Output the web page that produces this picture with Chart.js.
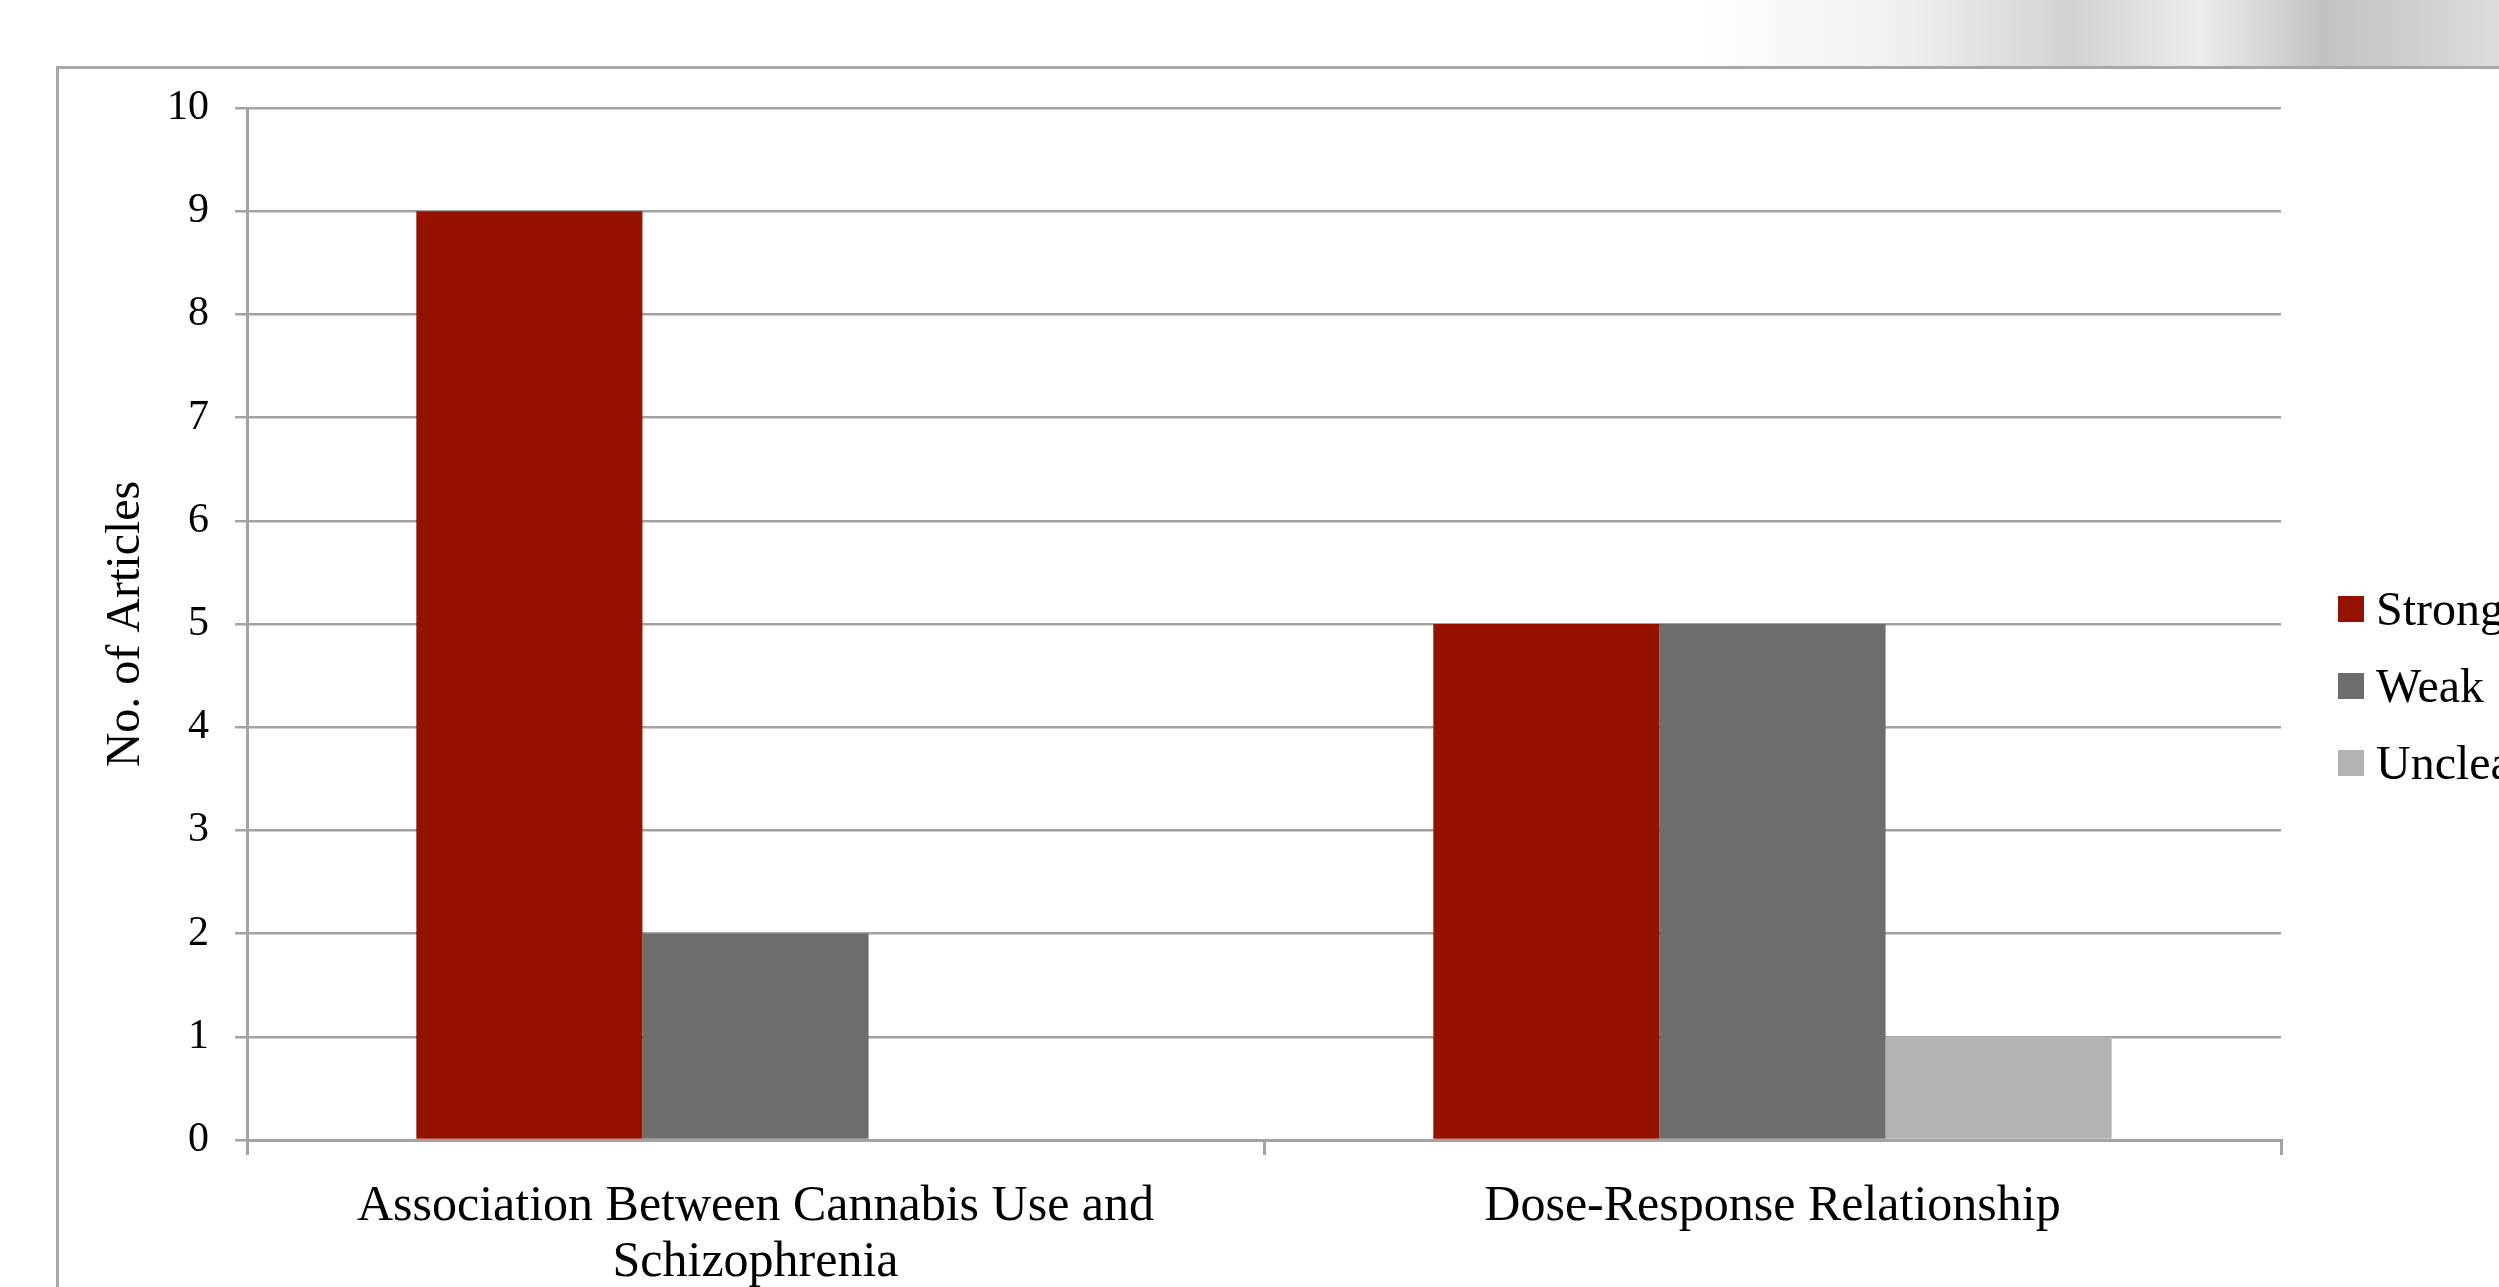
<!DOCTYPE html>
<html>
<head>
<meta charset="utf-8">
<script src="https://cdn.jsdelivr.net/npm/chart.js@4.4.0/dist/chart.umd.min.js"></script>
<style>
    html, body { margin: 0; padding: 0; width: 2499px; height: 1287px; overflow: hidden; background: #fff; }
    #shade {
        position: absolute; left: 0; top: 0; width: 2499px; height: 66px;
        background: linear-gradient(90deg, #fff 0%, #fff 68%, #f0f0f0 76%, #d2d2d2 83%, #ececec 88%, #c2c2c2 93%, #dcdcdc 100%);
    }
    #frame {
        position: absolute; left: 56px; top: 66px; width: 2500px; height: 1300px;
        border-left: 3px solid #a8a8a8; border-top: 3px solid #a8a8a8; background: #fff;
    }
    #chart { position: absolute; left: 0; top: 0; }
    #legend {
        position: absolute; left: 2338px; top: 570px;
        font-family: "Liberation Serif", "DejaVu Serif", serif; font-size: 48px; color: #000;
    }
    .item { height: 77px; display: flex; align-items: center; white-space: nowrap; }
    .box { width: 26px; height: 26px; margin-right: 12px; }
</style>
</head>
<body>
<div id="shade"></div>
<div id="frame"></div>
<canvas id="chart" width="2499" height="1287"></canvas>
<div id="legend"></div>

<script>
// ------------------------------------
// Data
// ------------------------------------
const categories = [
    ["Association Between Cannabis Use and", "Schizophrenia"],
    "Dose-Response Relationship"
];
const seriesNames = ["Strong", "Weak", "Unclear"];
const strongValues = [9, 5];
const weakValues = [2, 5];
const unclearValues = [0, 1];
const yTicks = [0, 1, 2, 3, 4, 5, 6, 7, 8, 9, 10];
const seriesColors = ["#961200", "#6d6d6d", "#b3b3b3"];

const serif = "'Liberation Serif', 'DejaVu Serif', serif";
const gridGrey = '#a3a3a3';

// ------------------------------------
// Chart
// ------------------------------------
function initChart() {
    const ctx = document.getElementById('chart').getContext('2d');
    new Chart(ctx, {
        type: 'bar',
        data: {
            labels: categories,
            datasets: [
                { label: seriesNames[0], data: strongValues, backgroundColor: seriesColors[0] },
                { label: seriesNames[1], data: weakValues, backgroundColor: seriesColors[1] },
                { label: seriesNames[2], data: unclearValues, backgroundColor: seriesColors[2] }
            ]
        },
        options: {
            responsive: false,
            animation: false,
            datasets: { bar: { categoryPercentage: 0.667, barPercentage: 1.0, borderWidth: 0 } },
            layout: { padding: { top: 108, right: 218, left: 0, bottom: 0 } },
            plugins: {
                legend: { display: false },
                title: { display: false },
                tooltip: { enabled: false }
            },
            scales: {
                x: {
                    afterFit: s => { s.height = 147; },
                    grid: { offset: true, drawOnChartArea: false, drawTicks: true, tickLength: 15, color: gridGrey, lineWidth: 3 },
                    border: { display: true, color: gridGrey, width: 3 },
                    ticks: { color: '#000', font: { family: serif, size: 50, lineHeight: 1.12 }, padding: 24, maxRotation: 0 }
                },
                y: {
                    min: 0,
                    max: 10,
                    afterFit: s => { s.width = 247; },
                    afterBuildTicks: s => { s.ticks = yTicks.map(v => ({ value: v })); },
                    grid: { color: gridGrey, lineWidth: 2.5, tickLength: 12 },
                    border: { display: true, color: gridGrey, width: 3 },
                    ticks: { color: '#000', font: { family: serif, size: 42 }, padding: 26 },
                    title: {
                        display: true,
                        text: 'No. of Articles',
                        color: '#000',
                        font: { family: serif, size: 48 },
                        padding: { top: 98, bottom: 0 }
                    }
                }
            }
        }
    });
}

function renderLegend() {
    const legend = document.getElementById('legend');
    seriesNames.forEach((name, i) => {
        const row = document.createElement('div');
        row.className = 'item';
        row.innerHTML = `<span class="box" style="background:${seriesColors[i]}"></span><span>${name}</span>`;
        legend.appendChild(row);
    });
}

window.onload = function() {
    initChart();
    renderLegend();
};
</script>
</body>
</html>
